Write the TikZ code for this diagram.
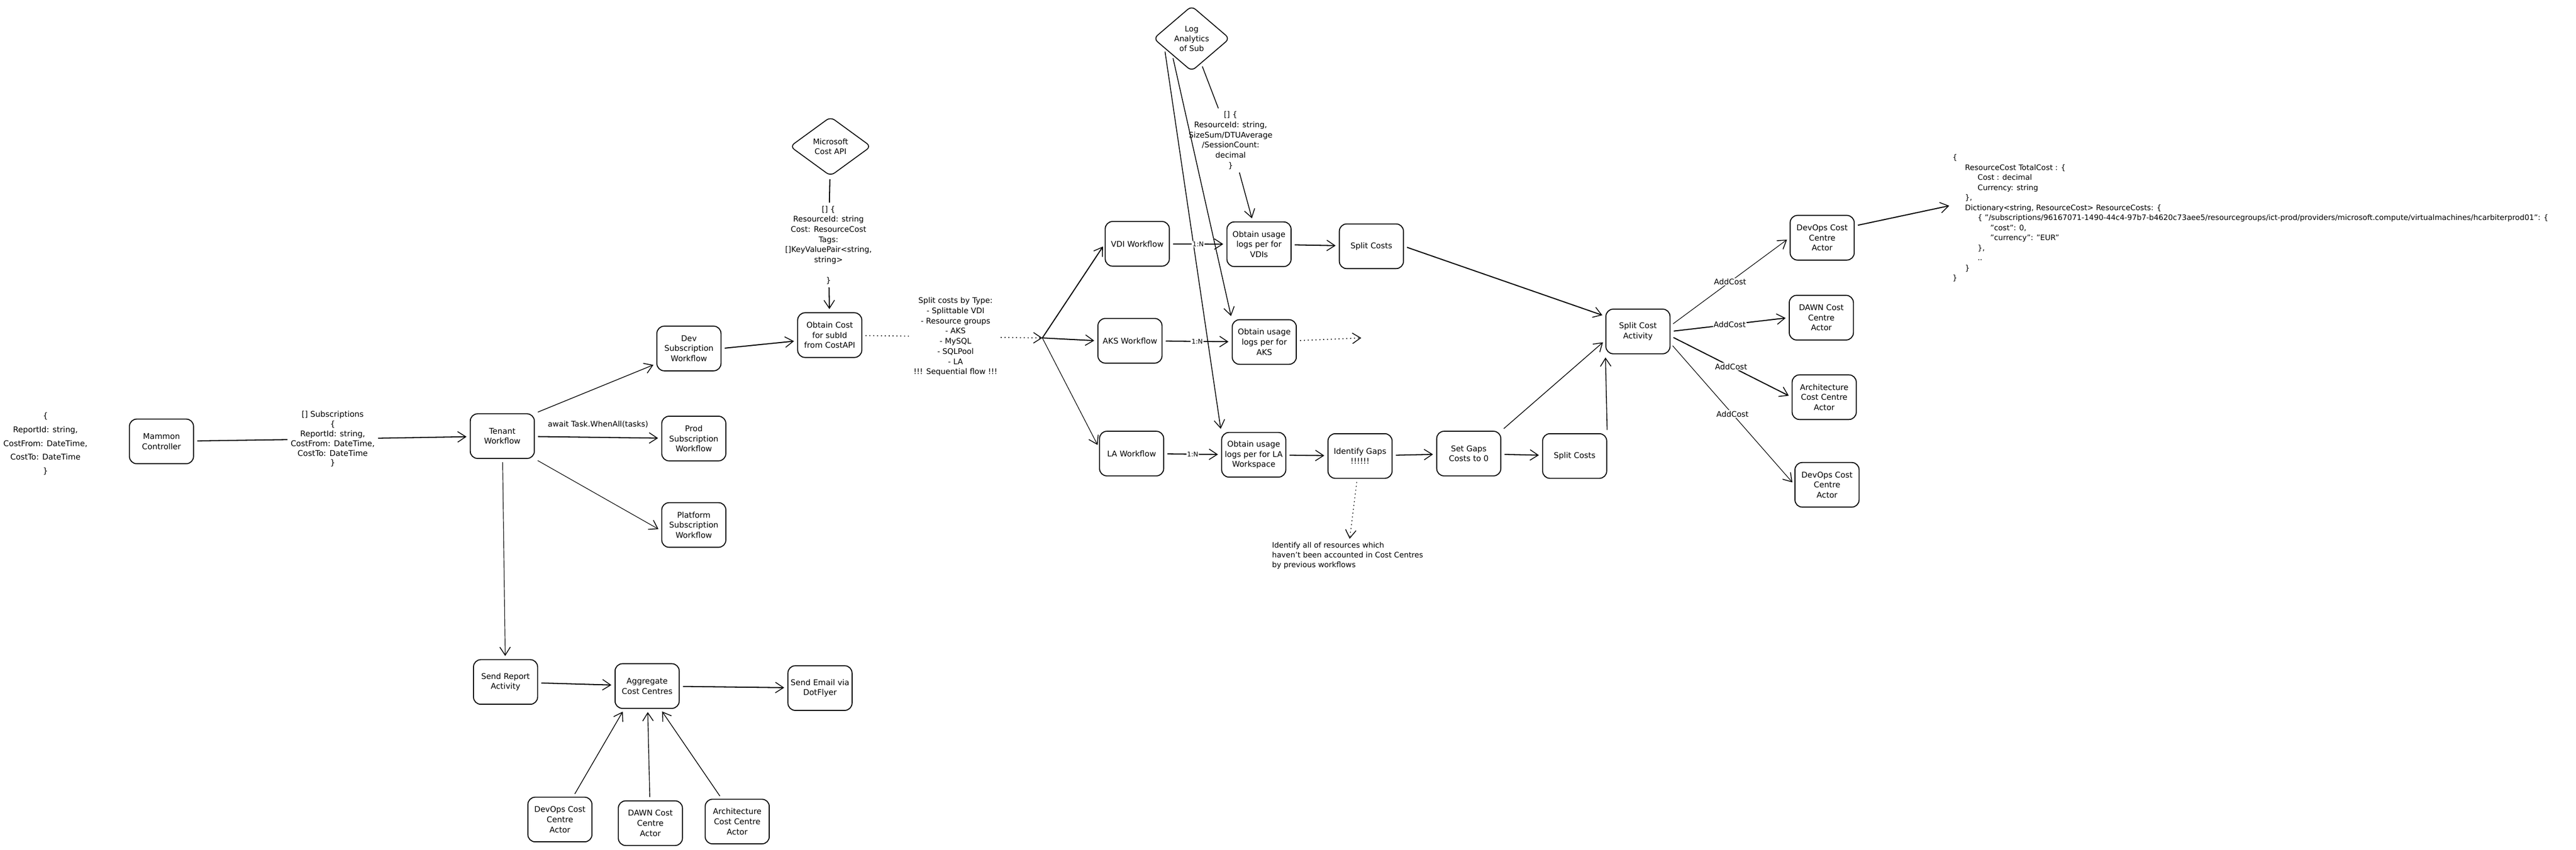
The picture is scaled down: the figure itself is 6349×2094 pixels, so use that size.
\documentclass[tikz,border=0pt]{standalone}
\usepackage{fontspec}
\setmainfont{DejaVu Sans}
\usetikzlibrary{arrows.meta}
\usetikzlibrary{calc}
\usetikzlibrary{shapes.geometric}
\tikzset{
  box/.style={
    draw, line width=2.4pt, rounded corners=18pt,
    minimum width=158pt, minimum height=110pt,
    align=center, inner sep=3pt,
    font=\fontsize{19.5}{25}\selectfont
  },
  api/.style={
    draw, diamond, line width=2.2pt, rounded corners=12pt,
    inner sep=0pt, align=center,
    font=\fontsize{19}{24}\selectfont
  },
  note/.style={align=center, inner sep=0pt, font=\fontsize{19}{25}\selectfont},
  tag/.style={fill=white, inner sep=2pt, font=\fontsize{19}{22}\selectfont},
  ratio/.style={tag, font=\fontsize{16}{20}\selectfont},
  tip/.style={-{Straight Barb[length=20pt,width=26pt,line width=2pt]}},
  arrow/.style={tip, line width=2.6pt, shorten >=8pt, shorten <=8pt},
  thin arrow/.style={arrow, line width=1.5pt},
  link/.style={line width=2.6pt, shorten >=8pt, shorten <=8pt},
  dots/.style={line width=2.2pt, dash pattern=on 2.5pt off 7pt, shorten >=8pt, shorten <=8pt}
}
\begin{document}
\begin{tikzpicture}[x=1pt, y=-1pt]
  \path[use as bounding box, fill=white] (0,0) rectangle (6349,2094);

  \node[note, font=\fontsize{19.5}{34}\selectfont] (req) at (112,1094)
    {\{\\ReportId: string,\\CostFrom: DateTime,\\CostTo: DateTime\\\}};
  \node[box] (mammon) at (398,1088) {Mammon\\Controller};
  \node[note, font=\fontsize{19.5}{24}\selectfont] (subs) at (820,1082)
    {[] Subscriptions\\\{\\ReportId: string,\\CostFrom: DateTime,\\CostTo: DateTime\\\}};
  \node[box] (tenant) at (1238,1075) {Tenant\\Workflow};
  \node[box] (dev) at (1698,859) {Dev\\Subscription\\Workflow};
  \node[box] (prod) at (1710,1081) {Prod\\Subscription\\Workflow};
  \node[box] (platform) at (1710,1294) {Platform\\Subscription\\Workflow};
  \node[box] (obtcost) at (2045,826) {Obtain Cost\\for subId\\from CostAPI};
  \node[api, minimum width=200pt, minimum height=146pt] (msapi) at (2047,361) {Microsoft\\Cost API};
  \node[note] (mstext) at (2042,604)
    {{[]} \{\\ResourceId: string\\Cost: ResourceCost\\Tags:\\{[]}KeyValuePair<string,\\string>\\[25pt]\}};
  \node[note] (splittext) at (2355,830)
    {Split costs by Type:\\- Splittable VDI\\- Resource groups\\- AKS\\- MySQL\\- SQLPool\\- LA\\!!! Sequential flow !!!};
  \coordinate (fork) at (2569,833);

  \node[api, minimum width=188pt, minimum height=161pt] (loga) at (2937,95) {Log\\Analytics\\of Sub};
  \node[note] (latext) at (3033,346)
    {{[]} \{\\ResourceId: string,\\SizeSum/DTUAverage\\/SessionCount:\\decimal\\\}};
  \node[box] (vdi) at (2803,601) {VDI Workflow};
  \node[box] (aks) at (2785,840) {AKS Workflow};
  \node[box] (la) at (2789,1118) {LA Workflow};
  \node[box] (obtvdi) at (3103,602) {Obtain usage\\logs per for\\VDIs};
  \node[box] (obtaks) at (3116,843) {Obtain usage\\logs per for\\AKS};
  \node[box] (obtla) at (3090,1121) {Obtain usage\\logs per for LA\\Workspace};
  \coordinate (aksout) at (3355,833);
  \node[box] (splittop) at (3380,607) {Split Costs};
  \node[box] (gaps) at (3352,1124) {Identify Gaps\\!!!!!!};
  \node[box] (setgaps) at (3620,1118) {Set Gaps\\Costs to 0};
  \node[box] (splitbot) at (3881,1124) {Split Costs};
  \node[note, align=left, anchor=north west, font=\fontsize{18.5}{24.5}\selectfont] (gapnote) at (3135,1336)
    {Identify all of resources which\\haven't been accounted in Cost Centres\\by previous workflows};

  \node[box] (sca) at (4037,817) {Split Cost\\Activity};
  \node[box] (devtop) at (4491,586) {DevOps Cost\\Centre\\Actor};
  \node[box] (dawn) at (4489,783) {DAWN Cost\\Centre\\Actor};
  \node[box] (arch) at (4496,979) {Architecture\\Cost Centre\\Actor};
  \node[box] (devbot) at (4503,1195) {DevOps Cost\\Centre\\Actor};
  \node[note, align=left, anchor=north west, font=\fontsize{18.5}{24.8}\selectfont] (costs) at (4812,380)
    {\{\\
     \hspace*{31pt}ResourceCost TotalCost : \{\\
     \hspace*{62pt}Cost : decimal\\
     \hspace*{62pt}Currency: string\\
     \hspace*{31pt}\},\\
     \hspace*{31pt}Dictionary<string, ResourceCost> ResourceCosts: \{\\
     \hspace*{62pt}\{ "/subscriptions/96167071-1490-44c4-97b7-b4620c73aee5/resourcegroups/ict-prod/providers/microsoft.compute/virtualmachines/hcarbiterprod01": \{\\
     \hspace*{93pt}"cost": 0,\\
     \hspace*{93pt}"currency": "EUR"\\
     \hspace*{62pt}\},\\
     \hspace*{62pt}..\\
     \hspace*{31pt}\}\\
     \}};

  \node[box] (sendrep) at (1246,1681) {Send Report\\Activity};
  \node[box] (agg) at (1595,1691) {Aggregate\\Cost Centres};
  \node[box] (email) at (2021,1696) {Send Email via\\DotFlyer};
  \node[box] (devbl) at (1380,2020) {DevOps Cost\\Centre\\Actor};
  \node[box] (dawnbl) at (1603,2029) {DAWN Cost\\Centre\\Actor};
  \node[box] (archbl) at (1817,2025) {Architecture\\Cost Centre\\Actor};

  \draw[link] (mammon) -- (subs);
  \draw[arrow] (subs) -- (tenant);
  \draw[thin arrow, line width=1.8pt] (tenant.north east) -- (dev.205);
  \draw[arrow] (tenant) -- node[note, midway, above=22pt] {await Task.WhenAll(tasks)} (prod);
  \draw[thin arrow] (tenant.south east) -- (platform.190);
  \draw[arrow] (dev.east) -- (obtcost.190);
  \draw[link] (msapi) -- (mstext);
  \draw[arrow] (mstext) -- (obtcost);
  \draw[dots] (obtcost) -- (splittext);
  \draw[dots, tip, shorten >=0pt] (splittext) -- (fork);
  \draw[arrow, shorten <=0pt] (fork) -- (vdi.west);
  \draw[arrow, shorten <=0pt] (fork) -- (aks.west);
  \draw[thin arrow, shorten <=0pt] (fork) -- (la.170);

  \draw[link, line width=2pt] (loga) -- (latext);
  \draw[arrow, line width=2pt] (latext) -- (obtvdi);
  \draw[arrow, line width=2pt] (loga.south west) -- (obtaks.north west);
  \draw[arrow, line width=2pt] (loga.200) -- (obtla.north west);
  \draw[arrow] (vdi) -- node[ratio] {1:N} (obtvdi);
  \draw[arrow] (aks) -- node[ratio] {1:N} (obtaks);
  \draw[arrow] (la) -- node[ratio] {1:N} (obtla);
  \draw[dots, tip, shorten >=0pt] (obtaks) -- (aksout);
  \draw[arrow] (obtvdi) -- (splittop);
  \draw[arrow] (splittop.east) -- (sca.155);
  \draw[arrow] (obtla) -- (gaps);
  \draw[arrow] (gaps) -- (setgaps);
  \draw[arrow] (setgaps) -- (splitbot);
  \draw[dots, line width=1.8pt, tip] (gaps) -- (gapnote);
  \draw[thin arrow, line width=1.8pt] (setgaps.north east) -- (sca.195);
  \draw[arrow, line width=2pt] (splitbot.north east) -- (sca.south west);

  \draw[thin arrow] (sca.10) -- node[tag] {AddCost} (devtop.west);
  \draw[arrow] (sca.east) -- node[tag] {AddCost} (dawn.west);
  \draw[arrow] (sca.-8) -- node[tag] {AddCost} (arch.west);
  \draw[thin arrow] (sca.-20) -- node[tag] {AddCost} (devbot.west);
  \draw[arrow] (devtop.20) -- ($(costs.west)+(0,-32)$);

  \draw[thin arrow] (tenant) -- (sendrep);
  \draw[arrow] (sendrep) -- (agg);
  \draw[arrow] (agg) -- (email);
  \draw[thin arrow, line width=1.8pt] (devbl) -- (agg.225);
  \draw[thin arrow, line width=1.8pt] (dawnbl) -- (agg);
  \draw[thin arrow, line width=1.8pt] (archbl) -- (agg.300);
\end{tikzpicture}
\end{document}
